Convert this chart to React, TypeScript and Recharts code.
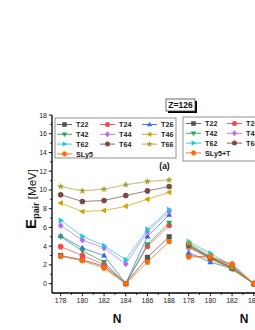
import React from "react";
import { LineChart, Line, XAxis, YAxis } from "recharts";

// neutron numbers
const nLeft = [178, 180, 182, 184, 186, 188];
const nRight = [178, 180, 182, 184];

const xTicks = [178, 179, 180, 181, 182, 183, 184, 185, 186, 187, 188];
const yTicks = [0, 1, 2, 3, 4, 5, 6, 7, 8, 9, 10, 11, 12, 13, 14, 15, 16, 17, 18];

// panel (a) pairing energies [MeV]
const t22 = [3.0, 2.55, 1.85, 0, 2.8, 5.0];
const t24 = [3.95, 3.0, 2.05, 0, 4.0, 6.2];
const t26 = [5.1, 3.8, 3.0, 0, 5.05, 7.35];
const t42 = [5.0, 3.5, 2.3, 0, 4.2, 6.5];
const t44 = [6.2, 4.65, 3.8, 2.1, 5.55, 7.7];
const t46 = [8.6, 7.7, 7.8, 8.25, 9.0, 9.75];
const t62 = [6.75, 5.05, 4.05, 2.55, 5.8, 7.9];
const t64 = [9.48, 8.77, 8.87, 9.4, 9.9, 10.37];
const t66 = [10.37, 9.9, 10.08, 10.55, 10.9, 11.07];
const sly5 = [2.9, 2.45, 1.65, 0, 2.3, 4.5];

// panel (b), SLy5+T
const t22b = [4.0, 2.7, 1.7, 0];
const t24b = [3.0, 2.8, 2.0, 0];
const t26b = [3.3, 2.3, 1.6, 0];
const t42b = [4.2, 2.8, 1.6, 0];
const t44b = [3.8, 2.9, 1.8, 0];
const t46b = [3.9, 2.6, 1.5, 0];
const t62b = [4.5, 3.25, 1.9, 0];
const t64b = [4.1, 2.75, 1.65, 0];
const t66b = [4.3, 3.0, 1.7, 0];
const sly5t = [2.85, 2.85, 2.1, 0];

const series = [
  { key: "T22", color: "#555555", shape: "square", a: t22, b: t22b },
  { key: "T24", color: "#f24a4a", shape: "circle", a: t24, b: t24b },
  { key: "T26", color: "#2b6fe6", shape: "up", a: t26, b: t26b },
  { key: "T42", color: "#2f9e5e", shape: "down", a: t42, b: t42b },
  { key: "T44", color: "#b56ee6", shape: "diamond", a: t44, b: t44b },
  { key: "T46", color: "#d2a000", shape: "left", a: t46, b: t46b },
  { key: "T62", color: "#1ec6dc", shape: "right", a: t62, b: t62b },
  { key: "T64", color: "#7b4b4b", shape: "circle", a: t64, b: t64b },
  { key: "T66", color: "#a8a030", shape: "star", a: t66, b: t66b },
  { key: "SLy5", color: "#ff6a00", shape: "hex", a: sly5, b: sly5t },
];

const rowsA = nLeft.map((n, i) => {
  const r: any = { N: n };
  series.forEach((s) => (r[s.key] = s.a[i]));
  return r;
});
const rowsB = nRight.map((n, i) => {
  const r: any = { N: n };
  series.forEach((s) => (r[s.key] = s.b[i]));
  return r;
});

const FONT = "'Liberation Sans', Arial, sans-serif";
const X_DOMAIN = [177.2, 189];
const Y_DOMAIN = [-1, 18];

const Marker = ({ cx, cy, shape, color, s = 2.6 }: any) => {
  switch (shape) {
    case "square":
      return <rect x={cx - s} y={cy - s} width={2 * s} height={2 * s} fill={color} />;
    case "circle":
      return <circle cx={cx} cy={cy} r={s + 0.2} fill={color} />;
    case "up":
      return <polygon points={`${cx},${cy - s * 1.25} ${cx + s * 1.15},${cy + s * 0.8} ${cx - s * 1.15},${cy + s * 0.8}`} fill={color} />;
    case "down":
      return <polygon points={`${cx},${cy + s * 1.25} ${cx + s * 1.15},${cy - s * 0.8} ${cx - s * 1.15},${cy - s * 0.8}`} fill={color} />;
    case "left":
      return <polygon points={`${cx - s * 1.25},${cy} ${cx + s * 0.8},${cy - s * 1.15} ${cx + s * 0.8},${cy + s * 1.15}`} fill={color} />;
    case "right":
      return <polygon points={`${cx + s * 1.25},${cy} ${cx - s * 0.8},${cy - s * 1.15} ${cx - s * 0.8},${cy + s * 1.15}`} fill={color} />;
    case "diamond":
      return <polygon points={`${cx},${cy - s * 1.3} ${cx + s * 1.1},${cy} ${cx},${cy + s * 1.3} ${cx - s * 1.1},${cy}`} fill={color} />;
    case "star": {
      const pts: string[] = [];
      for (let k = 0; k < 10; k++) {
        const r = k % 2 === 0 ? s * 1.45 : s * 0.6;
        const a = -Math.PI / 2 + (k * Math.PI) / 5;
        pts.push(`${cx + r * Math.cos(a)},${cy + r * Math.sin(a)}`);
      }
      return <polygon points={pts.join(" ")} fill={color} />;
    }
    default: {
      const pts: string[] = [];
      for (let k = 0; k < 6; k++) {
        const a = (k * Math.PI) / 3;
        pts.push(`${cx + s * 1.15 * Math.cos(a)},${cy + s * 1.15 * Math.sin(a)}`);
      }
      return <polygon points={pts.join(" ")} fill={color} />;
    }
  }
};

const XTick = ({ x, y, payload, dir = 1, label = false }: any) => {
  const v = payload.value;
  const major = v % 2 === 0;
  return (
    <g>
      <line x1={x} x2={x} y1={y} y2={y + dir * (major ? 3.2 : 1.8)} stroke="#000" strokeWidth={0.9} />
      {label && major && (
        <text x={x} y={y + 10} textAnchor="middle" fontSize={7} fontFamily={FONT} fill="#222">
          {v}
        </text>
      )}
    </g>
  );
};

const YTick = ({ x, y, payload, dir = -1, label = false }: any) => {
  const v = payload.value;
  const major = v % 2 === 0;
  return (
    <g>
      <line x1={x} x2={x + dir * (major ? 3.2 : 1.8)} y1={y} y2={y} stroke="#000" strokeWidth={0.9} />
      {label && major && (
        <text x={x - 5} y={y + 2.5} textAnchor="end" fontSize={7} fontFamily={FONT} fill="#222">
          {v}
        </text>
      )}
    </g>
  );
};

const axisLine = { stroke: "#000", strokeWidth: 1.3 };

const Panel = ({ rows, left, width, marginLeft, marginRight, labelY }: any) => (
  <div style={{ position: "absolute", left, top: 0 }}>
    <LineChart width={width} height={330} data={rows} margin={{ top: 115, right: marginRight, bottom: 0, left: marginLeft }}>
      <XAxis
        dataKey="N"
        type="number"
        domain={X_DOMAIN}
        ticks={xTicks}
        allowDataOverflow
        height={37}
        tickSize={0}
        tickMargin={0}
        axisLine={axisLine}
        tick={<XTick dir={1} label />}
        interval={0}
      />
      <XAxis
        xAxisId="top"
        orientation="top"
        dataKey="N"
        type="number"
        domain={X_DOMAIN}
        ticks={xTicks}
        allowDataOverflow
        height={0}
        tickSize={0}
        tickMargin={0}
        axisLine={axisLine}
        tick={<XTick dir={1} />}
        interval={0}
      />
      <YAxis
        type="number"
        domain={Y_DOMAIN}
        ticks={yTicks}
        allowDataOverflow
        width={labelY ? 52 : 0}
        tickSize={0}
        tickMargin={0}
        axisLine={axisLine}
        tick={<YTick dir={-1} label={labelY} />}
        interval={0}
      />
      <YAxis
        yAxisId="r"
        orientation="right"
        type="number"
        domain={Y_DOMAIN}
        ticks={yTicks}
        allowDataOverflow
        width={0}
        tickSize={0}
        tickMargin={0}
        axisLine={{ stroke: "#000", strokeWidth: 1.8 }}
        tick={<YTick dir={1} />}
        interval={0}
      />
      {series.map((s) => (
        <Line
          key={s.key}
          dataKey={s.key}
          stroke={s.color}
          strokeWidth={0.9}
          strokeOpacity={0.8}
          isAnimationActive={false}
          dot={(p: any) => <Marker key={`${s.key}-${p.index}`} cx={p.cx} cy={p.cy} shape={s.shape} color={s.color} />}
          activeDot={false}
        />
      ))}
    </LineChart>
  </div>
);

const LegendBox = ({ x0, y0, w, h, cols, suffix }: any) => (
  <g>
    <rect x={x0} y={y0} width={w} height={h} fill="#fff" stroke="#777" strokeWidth={0.8} />
    {series.map((s, i) => {
      const cx = cols[i % 3];
      const cy = y0 + 6.5 + Math.floor(i / 3) * 9.8;
      const name = s.key === "SLy5" ? "SLy5" + suffix : s.key;
      return (
        <g key={s.key}>
          <line x1={cx} x2={cx + 15} y1={cy} y2={cy} stroke={s.color} strokeWidth={0.9} />
          <Marker cx={cx + 7.5} cy={cy} shape={s.shape} color={s.color} s={2.3} />
          <text x={cx + 19} y={cy + 2.6} fontSize={7.2} fontWeight="bold" fontFamily={FONT} fill="#222">
            {name}
          </text>
        </g>
      );
    })}
  </g>
);

export default function App() {
  return (
    <div style={{ position: "fixed", left: 0, top: 0, width: 255, height: 330, overflow: "hidden", background: "#fff" }}>
      <Panel rows={rowsA} left={0} width={186} marginLeft={0} marginRight={6} labelY />
      <Panel rows={rowsB} left={170} width={146} marginLeft={10} marginRight={8} labelY={false} />
      <svg width={255} height={330} style={{ position: "absolute", left: 0, top: 0, pointerEvents: "none" }}>
        <LegendBox x0={55} y0={118} w={121} h={40} cols={[57, 100, 142]} suffix="" />
        <LegendBox x0={183} y0={117} w={100} h={44} cols={[186, 227, 268]} suffix="+T" />
        <rect x={168} y={101} width={29} height={12} fill="#000" />
        <rect x={166} y={99} width={29} height={12} fill="#fff" stroke="#444" strokeWidth={0.8} />
        <text x={180.5} y={108.3} textAnchor="middle" fontSize={8.5} fontWeight="bold" fontFamily={FONT} fill="#111">
          Z=126
        </text>
        <text x={164.5} y={169} textAnchor="middle" fontSize={8.5} fontWeight="bold" fontFamily={FONT} fill="#111">
          (a)
        </text>
        <text transform="translate(36,199) rotate(-90)" textAnchor="middle" fontFamily={FONT} fill="#111">
          <tspan fontSize={15} fontWeight="bold">E</tspan>
          <tspan fontSize={9} fontWeight="bold" dy={3}>pair</tspan>
          <tspan fontSize={11.5} dy={-3}> [MeV]</tspan>
        </text>
        <text x={117} y={323} textAnchor="middle" fontSize={12} fontWeight="bold" fontFamily={FONT} fill="#111">
          N
        </text>
        <text x={244} y={323} textAnchor="middle" fontSize={12} fontWeight="bold" fontFamily={FONT} fill="#111">
          N
        </text>
      </svg>
    </div>
  );
}
